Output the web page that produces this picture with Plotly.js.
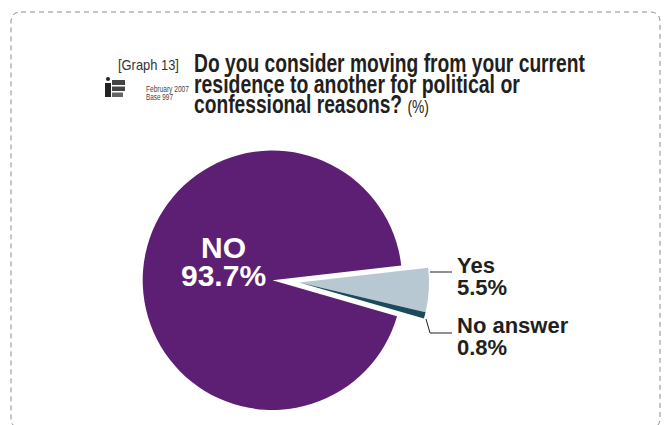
<!DOCTYPE html>
<html>
<head>
<meta charset="utf-8">
<script src="https://cdn.plot.ly/plotly-3.0.1.min.js"></script>
<style>
html,body{margin:0;padding:0;background:#fff;overflow:hidden;}
#chart{width:668px;height:425px;}
</style>
</head>
<body>
<div id="chart"></div>
<script>
// ---- data (clockwise order starting at the pulled-out wedge) ----
const labels = ['Yes', 'No answer', 'NO'];
const shares = [5.5, 0.8, 93.7];
const sliceColors = ['#b7c8d3', '#1b4a5b', '#5d1f74'];
const titleLines = ['Do you consider moving from your current', 'residence to another for political or', 'confessional reasons?'];
const unitText = '(%)';
const graphLabel = '[Graph 13]';
const sourceLines = ['February 2007', 'Base 997'];

const W = 668, H = 425;
const px = x => x / W;
const py = y => 1 - y / H;
const clear = 'rgba(0,0,0,0)';

function domainFor(cx, cy, r) {
  return { x: [px(cx - r), px(cx + r)], y: [py(cy + r), py(cy - r)] };
}
const R = 129.7;
const rotation = 83.4;

// main pie: the large NO slice
const mainTrace = {
  type: 'pie', labels: labels, values: shares, sort: false, direction: 'clockwise',
  rotation: rotation, domain: domainFor(272.4, 280.3, R),
  marker: { colors: shares.map((v, i) => labels[i] === 'NO' ? sliceColors[i] : clear), line: { width: 0 } },
  textinfo: 'none', hoverinfo: 'none', showlegend: false
};
// exploded wedge: Yes + No answer, shifted outward together
const explodedTrace = {
  type: 'pie', labels: labels, values: shares, sort: false, direction: 'clockwise',
  rotation: rotation, domain: domainFor(299.3, 282.6, R),
  marker: { colors: shares.map((v, i) => labels[i] === 'NO' ? clear : sliceColors[i]), line: { width: 0 } },
  textinfo: 'none', hoverinfo: 'none', showlegend: false
};

const iNO = labels.indexOf('NO'), iYes = labels.indexOf('Yes'), iNA = labels.indexOf('No answer');
const dark = '#231f20';
const sans = 'Liberation Sans, Arial, sans-serif';
const labelFont = { family: sans, size: 22, color: dark, weight: 'bold' };
const bigFont = { family: sans, size: 30, color: '#ffffff', weight: 'bold' };
const titleFont = { family: sans, size: 25, color: dark, weight: 'bold' };

const fitWidths = {};   // condensed widths (px) for text set in a condensed face
const twoLine = {};     // [first baseline px, line gap px] for two-line labels
const annotations = [];
function ann(text, x, y, font, opts) {
  opts = opts || {};
  const a = { text: text, x: px(x), y: py(y), xref: 'paper', yref: 'paper', showarrow: false,
           xanchor: opts.anchor || 'left', align: opts.anchor === 'center' ? 'center' : 'left',
           yanchor: 'middle', font: font, borderpad: 0 };
  if (opts.fit) fitWidths[annotations.length] = opts.fit;
  if (opts.baseline) twoLine[annotations.length] = [opts.baseline, opts.gap];
  annotations.push(a);
}
ann(labels[iNO] + '<br>' + shares[iNO] + '%', 223.5, 262, bigFont, { anchor: 'center', baseline: 258, gap: 28 });
ann(labels[iYes] + '<br>' + shares[iYes] + '%', 456, 277, labelFont, { baseline: 273, gap: 21.5 });
ann(labels[iNA] + '<br>' + shares[iNA] + '%', 456, 337, labelFont, { baseline: 333, gap: 21.5 });
ann(titleLines[0], 193, 62.5, titleFont, { fit: 391 });
ann(titleLines[1], 193, 83.5, titleFont, { fit: 326 });
ann(titleLines[2] + ' <span style="font-weight:normal;font-size:18px">' + unitText + '</span>', 193, 104, titleFont, { fit: 235 });
ann(graphLabel, 117, 64.5, { family: sans, size: 15, color: '#333333' }, { fit: 61 });
ann(sourceLines[0], 145, 88.5, { family: sans, size: 9.5, color: '#444444' }, { fit: 43 });
ann(sourceLines[1], 145, 96.5, { family: sans, size: 9.5, color: '#444444' }, { fit: 27 });

// dashed rounded frame
const L = 11, Rt = 660, T = 12, B = 428, cr = 10;
const framePath = [
  'M', px(L + cr), py(T), 'L', px(Rt - cr), py(T),
  'Q', px(Rt), py(T), px(Rt), py(T + cr),
  'L', px(Rt), py(B - cr),
  'Q', px(Rt), py(B), px(Rt - cr), py(B),
  'L', px(L + cr), py(B),
  'Q', px(L), py(B), px(L), py(B - cr),
  'L', px(L), py(T + cr),
  'Q', px(L), py(T), px(L + cr), py(T), 'Z'
].join(' ');

const leader = { color: dark, width: 1 };
const shapes = [
  { type: 'path', xref: 'paper', yref: 'paper', path: framePath, line: { color: '#8c8c8c', width: 1, dash: '5px,4px' } },
  { type: 'line', xref: 'paper', yref: 'paper', x0: px(430), y0: py(272), x1: px(452), y1: py(272), line: leader },
  { type: 'path', xref: 'paper', yref: 'paper',
    path: `M ${px(426)} ${py(319)} L ${px(430)} ${py(333)} L ${px(452)} ${py(333)}`, line: leader },
  // small publisher logo mark
  { type: 'circle', xref: 'paper', yref: 'paper', x0: px(106), y0: py(81), x1: px(110), y1: py(77), fillcolor: '#222', line: { width: 0 } },
  { type: 'rect', xref: 'paper', yref: 'paper', x0: px(105), y0: py(97), x1: px(111), y1: py(83), fillcolor: '#222', line: { width: 0 } },
  { type: 'rect', xref: 'paper', yref: 'paper', x0: px(112), y0: py(85), x1: px(125), y1: py(80), fillcolor: '#444', line: { width: 0 } },
  { type: 'rect', xref: 'paper', yref: 'paper', x0: px(112), y0: py(91), x1: px(125), y1: py(86.5), fillcolor: '#444', line: { width: 0 } },
  { type: 'rect', xref: 'paper', yref: 'paper', x0: px(112), y0: py(97), x1: px(123), y1: py(92.5), fillcolor: '#666', line: { width: 0 } }
];

const layout = {
  width: W, height: H, margin: { l: 0, r: 0, t: 0, b: 0 },
  paper_bgcolor: '#ffffff', plot_bgcolor: '#ffffff',
  showlegend: false, annotations: annotations, shapes: shapes
};

const textOf = k => document.querySelector('.annotation[data-index="' + k + '"] text.annotation-text');
Plotly.newPlot('chart', [mainTrace, explodedTrace], layout, { staticPlot: true }).then(() => {
  Object.keys(fitWidths).forEach(k => {
    const t = textOf(k);
    if (!t) return;
    const sx = fitWidths[k] / t.getComputedTextLength();
    const x0 = t.getBBox().x;
    t.setAttribute('transform', 'matrix(' + sx + ',0,0,1,' + (x0 * (1 - sx)) + ',0)');
  });
  Object.keys(twoLine).forEach(k => {
    const t = textOf(k);
    if (!t) return;
    const [base, gap] = twoLine[k];
    const lines = t.querySelectorAll('tspan.line');
    if (lines.length > 1) lines[1].setAttribute('dy', gap);
    const cur = t.getStartPositionOfChar(0).y + t.getScreenCTM().f;
    t.setAttribute('transform', 'translate(0,' + (base - cur) + ')');
  });
});
</script>
</body>
</html>
